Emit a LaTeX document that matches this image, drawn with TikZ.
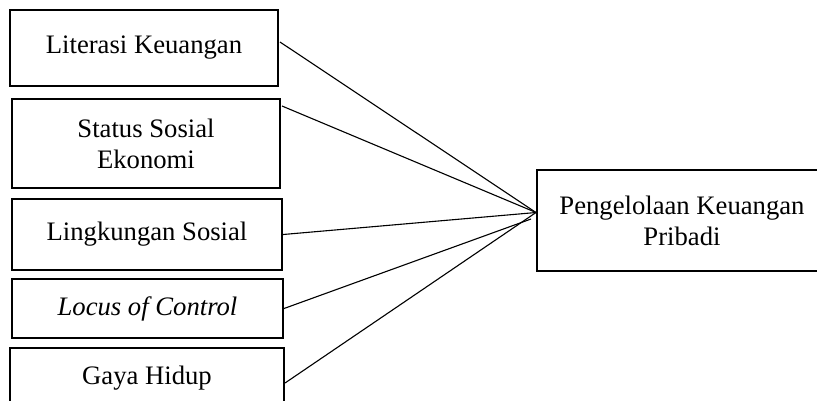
\documentclass[tikz,border=0pt]{standalone}
\usepackage{fontspec}
\setmainfont{Liberation Serif}
\usetikzlibrary{positioning,calc}

\begin{document}
\begin{tikzpicture}[x=0.45pt, y=-0.45pt,
varnode/.style={rectangle, draw=black, line width=0.9pt, align=center, inner sep=0pt, font=\fontsize{12}{14}\selectfont},
link/.style={draw=black, line width=0.5pt},
]
\useasboundingbox (0,0) rectangle (817,400);

\node[varnode, minimum width=268*0.45pt, minimum height=76*0.45pt] (lit)    at (144,48)    {Literasi Keuangan};
\node[varnode, minimum width=268*0.45pt, minimum height=89*0.45pt] (sse)    at (146,143.5) {Status Sosial\\Ekonomi};
\node[varnode, minimum width=270*0.45pt, minimum height=71*0.45pt] (ling)   at (147,234.5) {Lingkungan Sosial};
\node[varnode, minimum width=271*0.45pt, minimum height=59*0.45pt] (loc)    at (147.5,308.5) {\textit{Locus of Control}};
\node[varnode, minimum width=274*0.45pt, minimum height=60*0.45pt] (gaya)   at (147,378)   {Gaya Hidup};
\node[varnode, minimum width=310*0.45pt, minimum height=101*0.45pt] (pkp) at (692,220.5) {\hspace*{-9pt}Pengelolaan Keuangan\\\hspace*{-9pt}Pribadi};

\coordinate (hub)  at ($(pkp.west)+(0,-8)$);
\coordinate (hubl) at ($(pkp.west)+(-5,-1.5)$);

\draw[link] ($(lit.east)+(1,-6)$)    -- (hub);
\draw[link] ($(sse.east)+(1,-37.5)$) -- (hub);
\draw[link] (ling.east)              -- (hub);
\draw[link] (loc.east)               -- (hubl);
\draw[link] ($(gaya.east)+(0,5)$)    -- (hub);
\end{tikzpicture}
\end{document}
